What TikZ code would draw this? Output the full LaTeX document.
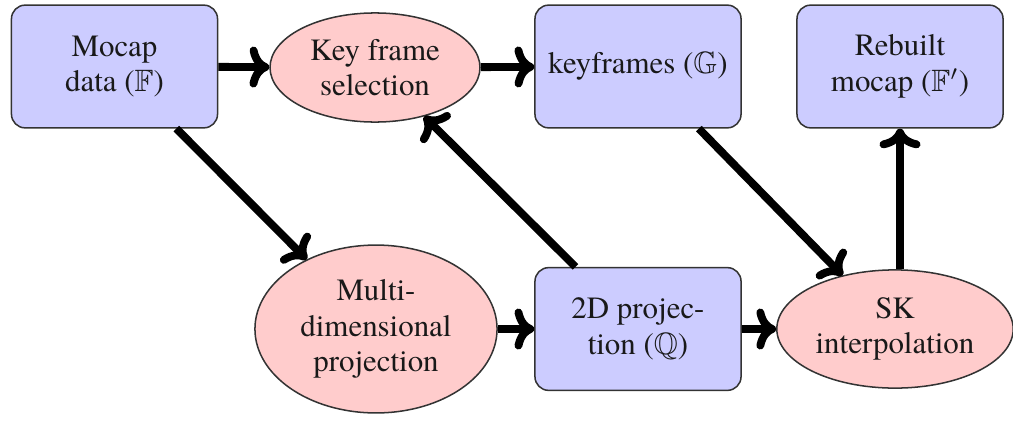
\documentclass[tikz,border=0pt]{standalone}
\usepackage{amssymb}
\usepackage{fontspec}
\setmainfont{TeX Gyre Termes}
\usetikzlibrary{shapes.geometric,arrows.meta}
\begin{document}
\begin{tikzpicture}[x=0.33pt,y=-0.33pt,
  txt/.style={align=center, font=\rmfamily\fontsize{10.2}{11.8}\selectfont, text=black!90},
  boxnode/.style={txt, draw=black!80, line width=0.5pt, fill=blue!20,
    rounded corners=4.5pt, minimum width=68pt, minimum height=40.5pt, inner sep=0pt},
  ellnode/.style={txt, ellipse, draw=black!80, line width=0.5pt, fill=red!20, inner sep=0pt},
  flow/.style={line width=2.6pt, -{Computer Modern Rightarrow[length=6.5pt,width=13.5pt]}}]
\useasboundingbox (0,0) rectangle (1013,422);
\node[boxnode] (mocap) at (114.5,66.5) {Mocap\\data ($\mathbb{F}$)};
\node[ellnode, minimum width=69.3pt, minimum height=36pt] (kfs) at (375,67.5) {Key frame\\selection};
\node[boxnode] (kf) at (638,66.5) {keyframes ($\mathbb{G}$)};
\node[boxnode] (rebuilt) at (900,66.5) {Rebuilt\\mocap ($\mathbb{F}'$)};
\node[ellnode, minimum width=79.9pt, minimum height=55.4pt] (mdp) at (376,329) {Multi-\\dimensional\\projection};
\node[boxnode] (proj) at (638,329) {2D projec-\\tion ($\mathbb{Q}$)};
\node[ellnode, minimum width=78pt, minimum height=39pt] (sk) at (895,329) {SK\\interpolation};
\draw[flow] (mocap) -- (kfs);
\draw[flow] (kfs) -- (kf);
\draw[flow] (mocap) -- (mdp);
\draw[flow] (mdp) -- (proj);
\draw[flow] (proj) -- (kfs);
\draw[flow] (proj) -- (sk);
\draw[flow] (kf) -- (sk);
\draw[flow] (sk.north -| rebuilt.south) -- (rebuilt.south);
\end{tikzpicture}
\end{document}
